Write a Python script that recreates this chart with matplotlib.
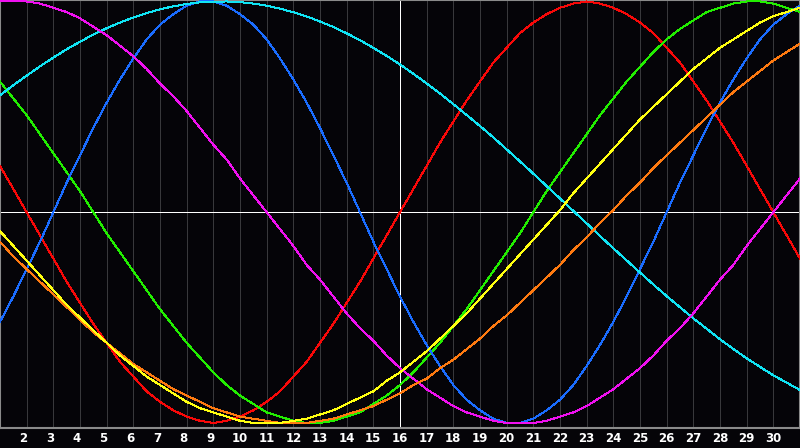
import matplotlib
matplotlib.use("Agg")
from matplotlib import pyplot as plt
from matplotlib.transforms import ScaledTranslation

# Readings every half day, from day 1 to day 31
days = [1 + 0.5 * i for i in range(61)]
tick_days = list(range(2, 31))

# Curve values, range -1..1
red = [0.22, 0.11, 0.00, -0.11, -0.22, -0.33, -0.43, -0.53, -0.62, -0.71,
       -0.78, -0.85, -0.90, -0.94, -0.97, -0.99, -1.00, -0.99, -0.97, -0.94,
       -0.90, -0.85, -0.78, -0.71, -0.62, -0.53, -0.43, -0.33, -0.22, -0.11,
       0.00, 0.11, 0.22, 0.33, 0.43, 0.53, 0.62, 0.71, 0.78, 0.85,
       0.90, 0.94, 0.97, 0.99, 1.00, 0.99, 0.97, 0.94, 0.90, 0.85,
       0.78, 0.71, 0.62, 0.53, 0.43, 0.33, 0.22, 0.11, 0.00, -0.11, -0.22]
green = [0.62, 0.54, 0.46, 0.37, 0.28, 0.19, 0.10, 0.00, -0.10, -0.19,
         -0.28, -0.37, -0.46, -0.54, -0.62, -0.69, -0.76, -0.82, -0.87, -0.91,
         -0.95, -0.97, -0.99, -1.00, -1.00, -0.99, -0.97, -0.95, -0.91, -0.87,
         -0.82, -0.76, -0.69, -0.62, -0.54, -0.46, -0.37, -0.28, -0.19, -0.10,
         0.00, 0.10, 0.19, 0.28, 0.37, 0.46, 0.54, 0.62, 0.69, 0.76,
         0.82, 0.87, 0.91, 0.95, 0.97, 0.99, 1.00, 1.00, 0.99, 0.97, 0.95]
blue = [-0.52, -0.40, -0.27, -0.14, 0.00, 0.14, 0.27, 0.40, 0.52, 0.63,
        0.73, 0.82, 0.89, 0.94, 0.98, 1.00, 1.00, 0.98, 0.94, 0.89,
        0.82, 0.73, 0.63, 0.52, 0.40, 0.27, 0.14, 0.00, -0.14, -0.27,
        -0.40, -0.52, -0.63, -0.73, -0.82, -0.89, -0.94, -0.98, -1.00, -1.00,
        -0.98, -0.94, -0.89, -0.82, -0.73, -0.63, -0.52, -0.40, -0.27, -0.14,
        0.00, 0.14, 0.27, 0.40, 0.52, 0.63, 0.73, 0.82, 0.89, 0.94, 0.98]
cyan = [0.555, 0.603, 0.648, 0.692, 0.734, 0.773, 0.809, 0.843, 0.873, 0.900,
        0.924, 0.945, 0.963, 0.977, 0.988, 0.996, 0.999, 1.000, 0.997, 0.990,
        0.980, 0.966, 0.949, 0.929, 0.905, 0.879, 0.849, 0.816, 0.780, 0.742,
        0.701, 0.657, 0.611, 0.563, 0.513, 0.461, 0.409, 0.355, 0.298, 0.241,
        0.183, 0.124, 0.065, 0.006, -0.053, -0.113, -0.171, -0.229, -0.286, -0.343,
        -0.398, -0.451, -0.504, -0.553, -0.603, -0.649, -0.693, -0.734, -0.774, -0.809, -0.844]
magenta = [1.00, 1.00, 1.00, 0.99, 0.97, 0.95, 0.92, 0.88, 0.84, 0.79,
           0.74, 0.68, 0.61, 0.55, 0.48, 0.40, 0.32, 0.25, 0.16, 0.08,
           0.00, -0.08, -0.16, -0.25, -0.32, -0.40, -0.48, -0.55, -0.61, -0.68,
           -0.74, -0.79, -0.84, -0.88, -0.92, -0.95, -0.97, -0.99, -1.00, -1.00,
           -1.00, -0.99, -0.97, -0.95, -0.92, -0.88, -0.84, -0.79, -0.74, -0.68,
           -0.61, -0.55, -0.48, -0.40, -0.32, -0.25, -0.16, -0.08, 0.00, 0.08, 0.16]
orange = [-0.14, -0.21, -0.27, -0.33, -0.39, -0.45, -0.51, -0.57, -0.62, -0.67,
          -0.72, -0.76, -0.80, -0.84, -0.87, -0.90, -0.93, -0.95, -0.97, -0.98,
          -0.99, -1.00, -1.00, -1.00, -0.99, -0.98, -0.96, -0.94, -0.92, -0.89,
          -0.86, -0.82, -0.79, -0.74, -0.70, -0.65, -0.60, -0.54, -0.49, -0.43,
          -0.37, -0.31, -0.25, -0.18, -0.12, -0.05, 0.01, 0.08, 0.14, 0.21,
          0.27, 0.33, 0.39, 0.45, 0.51, 0.57, 0.62, 0.67, 0.72, 0.76, 0.80]
yellow = [-0.09, -0.16, -0.23, -0.30, -0.37, -0.44, -0.50, -0.56, -0.62, -0.68,
          -0.73, -0.78, -0.82, -0.86, -0.90, -0.93, -0.95, -0.97, -0.99, -1.00,
          -1.00, -1.00, -0.99, -0.98, -0.96, -0.94, -0.91, -0.88, -0.85, -0.80,
          -0.76, -0.71, -0.66, -0.60, -0.54, -0.48, -0.41, -0.34, -0.27, -0.20,
          -0.13, -0.06, 0.01, 0.09, 0.16, 0.23, 0.30, 0.37, 0.44, 0.50,
          0.56, 0.62, 0.68, 0.73, 0.78, 0.82, 0.86, 0.90, 0.93, 0.95, 0.97]

series = [
    (red, '#f80808'),
    (green, '#22ee00'),
    (blue, '#1a6cff'),
    (cyan, '#10e4f4'),
    (magenta, '#f010f0'),
    (orange, '#ff7a10'),
    (yellow, '#ffff10'),
]

fig = plt.figure(figsize=(8, 4.48), dpi=100, facecolor='#050408')
ax = fig.add_axes([0, 20 / 448, 1, 428 / 448])
ax.set_facecolor('#050408')

# Day grid
for d in tick_days:
    if d == 16:
        continue
    ax.axvline(d, color='#38383b', linewidth=0.72, antialiased=False, zorder=1)
ax.axvline(16, color='white', linewidth=0.72, antialiased=False, zorder=2)
ax.axhline(0, color='white', linewidth=0.72, antialiased=False, zorder=2)

for values, color in series:
    ax.plot(days, values, color=color, linewidth=0.72, antialiased=False, zorder=3)

ax.set_xlim(1, 31)
ax.set_ylim(-1.024, 1.007)
ax.set_yticks([])
ax.set_xticks(tick_days)
ax.set_xticklabels([str(d) for d in tick_days], color='white',
                   fontsize=8.5, fontweight='bold', family='DejaVu Sans')
ax.tick_params(axis='x', length=0, pad=3)

# single digit labels sit a little left of their grid line
shift = ScaledTranslation(-3 / 100, 0, fig.dpi_scale_trans)
for d, lab in zip(tick_days, ax.get_xticklabels()):
    if d < 10:
        lab.set_transform(lab.get_transform() + shift)

for side in ['left', 'right', 'top', 'bottom']:
    ax.spines[side].set_color('#8a8a8a')
    ax.spines[side].set_linewidth(1.5)

fig.savefig('out.png', dpi=100, facecolor=fig.get_facecolor())
